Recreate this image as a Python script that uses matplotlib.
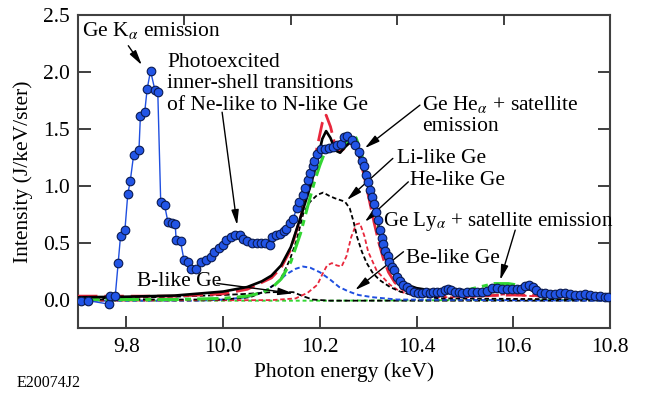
import matplotlib
matplotlib.use("Agg")
import matplotlib.pyplot as plt

plt.rcParams['font.family'] = ['Liberation Serif', 'DejaVu Serif']
plt.rcParams['mathtext.fontset'] = 'stix'

# ---------------- data ----------------
data_x = [9.706, 9.721, 9.764, 9.766, 9.777, 9.783, 9.788, 9.797, 9.803, 9.808,
          9.815, 9.826, 9.829, 9.838, 9.843, 9.850, 9.859, 9.865, 9.871, 9.879,
          9.886, 9.894, 9.901, 9.903, 9.912, 9.919, 9.927, 9.934, 9.943, 9.954,
          9.965, 9.974, 9.982, 9.992, 9.999, 10.007, 10.016, 10.025, 10.034, 10.041,
          10.049, 10.059, 10.071, 10.078, 10.087, 10.097, 10.101, 10.109, 10.118, 10.125,
          10.130, 10.138, 10.145, 10.152, 10.157, 10.166, 10.169, 10.175, 10.180, 10.185,
          10.189, 10.194, 10.202, 10.211, 10.220, 10.228, 10.236, 10.243, 10.250, 10.257,
          10.266, 10.273, 10.280, 10.287, 10.292, 10.296, 10.300, 10.304, 10.307, 10.311,
          10.316, 10.320, 10.324, 10.328, 10.331, 10.335, 10.340, 10.344, 10.349, 10.353,
          10.359, 10.366, 10.373, 10.380, 10.387, 10.395, 10.403, 10.411, 10.419, 10.427,
          10.435, 10.443, 10.451, 10.459, 10.465, 10.471, 10.479, 10.487, 10.495, 10.504,
          10.514, 10.524, 10.535, 10.545, 10.555, 10.566, 10.576, 10.586, 10.597, 10.607,
          10.617, 10.624, 10.633, 10.640, 10.648, 10.657, 10.666, 10.676, 10.686, 10.697,
          10.707, 10.717, 10.728, 10.738, 10.748, 10.759, 10.769, 10.779, 10.790, 10.796]
data_y = [-0.01, -0.01, -0.04, 0.03, 0.03, 0.32, 0.56, 0.61, 0.93, 1.04,
          1.27, 1.31, 1.61, 1.65, 1.85, 2.01, 1.84, 1.82, 0.86, 0.83,
          0.68, 0.67, 0.66, 0.52, 0.51, 0.35, 0.33, 0.27, 0.27, 0.33,
          0.35, 0.37, 0.42, 0.45, 0.48, 0.52, 0.55, 0.57, 0.57, 0.53,
          0.51, 0.50, 0.50, 0.50, 0.50, 0.48, 0.55, 0.57, 0.58, 0.60,
          0.62, 0.67, 0.71, 0.80, 0.86, 0.92, 0.98, 1.05, 1.11, 1.17,
          1.22, 1.28, 1.32, 1.32, 1.33, 1.34, 1.36, 1.37, 1.43, 1.44,
          1.40, 1.36, 1.30, 1.22, 1.17, 1.09, 1.03, 0.96, 0.90, 0.84,
          0.77, 0.70, 0.61, 0.54, 0.49, 0.43, 0.38, 0.33, 0.29, 0.26,
          0.20, 0.16, 0.13, 0.11, 0.08, 0.07, 0.06, 0.06, 0.065, 0.06,
          0.07, 0.065, 0.07, 0.08, 0.09, 0.08, 0.07, 0.07, 0.06, 0.065,
          0.07, 0.07, 0.07, 0.075, 0.10, 0.10, 0.09, 0.09, 0.09, 0.09,
          0.09, 0.12, 0.13, 0.11, 0.085, 0.06, 0.055, 0.05, 0.05, 0.06,
          0.06, 0.045, 0.04, 0.04, 0.045, 0.04, 0.035, 0.03, 0.025, 0.025]

# total fit (black solid)
total_x = [9.70, 9.80, 9.90, 10.00, 10.05, 10.08, 10.10, 10.12, 10.14, 10.16,
           10.18, 10.195, 10.205, 10.213, 10.222, 10.232, 10.242, 10.252, 10.265, 10.275,
           10.285, 10.295, 10.305, 10.315, 10.325, 10.335, 10.345, 10.355, 10.365, 10.38,
           10.40, 10.43, 10.47, 10.52, 10.58, 10.63, 10.70, 10.80]
total_y = [0.02, 0.025, 0.035, 0.07, 0.11, 0.16, 0.21, 0.30, 0.46, 0.72,
           0.99, 1.22, 1.41, 1.48, 1.42, 1.31, 1.29, 1.34, 1.39, 1.33,
           1.22, 1.08, 0.93, 0.76, 0.60, 0.45, 0.33, 0.24, 0.18, 0.13,
           0.10, 0.08, 0.07, 0.06, 0.07, 0.09, 0.05, 0.03]

# model 2 (red long dashes)
red_x = [9.70, 9.90, 10.00, 10.05, 10.10, 10.12, 10.14, 10.16, 10.18, 10.195,
         10.205, 10.213, 10.222, 10.232, 10.242, 10.252, 10.262, 10.272, 10.282, 10.292,
         10.302, 10.312, 10.322, 10.332, 10.342, 10.355, 10.37, 10.39, 10.42, 10.50,
         10.60, 10.70, 10.80]
red_y = [0.03, 0.03, 0.05, 0.09, 0.19, 0.28, 0.44, 0.72, 1.05, 1.35,
         1.55, 1.62, 1.52, 1.35, 1.30, 1.33, 1.37, 1.36, 1.25, 1.08,
         0.88, 0.68, 0.50, 0.35, 0.24, 0.15, 0.09, 0.06, 0.04, 0.03,
         0.04, 0.03, 0.02]

# model 3 (green dash-dot)
green_x = [9.70, 9.90, 10.00, 10.05, 10.08, 10.10, 10.12, 10.14, 10.16, 10.18,
           10.19, 10.20, 10.21, 10.22, 10.23, 10.24, 10.25, 10.26, 10.268, 10.275,
           10.285, 10.295, 10.305, 10.315, 10.325, 10.335, 10.345, 10.355, 10.37, 10.39,
           10.42, 10.46, 10.50, 10.53, 10.56, 10.59, 10.62, 10.65, 10.70, 10.75, 10.80]
green_y = [0.0, 0.0, 0.01, 0.03, 0.06, 0.10, 0.18, 0.33, 0.58, 0.90,
           1.05, 1.18, 1.29, 1.32, 1.33, 1.30, 1.33, 1.40, 1.45, 1.42,
           1.30, 1.12, 0.95, 0.76, 0.57, 0.42, 0.30, 0.21, 0.13, 0.08,
           0.06, 0.06, 0.08, 0.11, 0.14, 0.14, 0.12, 0.07, 0.04, 0.03, 0.02]

# Li-like Ge component (black short dashes)
li_x = [9.70, 10.00, 10.056, 10.09, 10.118, 10.138, 10.152, 10.166, 10.18, 10.195,
        10.207, 10.22, 10.231, 10.245, 10.252, 10.262, 10.270, 10.277, 10.287, 10.297,
        10.31, 10.324, 10.345, 10.366, 10.40, 10.45, 10.80]
li_y = [0.0, 0.0, 0.02, 0.08, 0.17, 0.35, 0.52, 0.76, 0.86, 0.92,
        0.94, 0.91, 0.89, 0.87, 0.86, 0.80, 0.68, 0.55, 0.42, 0.32,
        0.23, 0.17, 0.11, 0.07, 0.03, 0.01, 0.0]

# He-like Ge component (red short dashes)
he_x = [9.70, 10.10, 10.15, 10.175, 10.195, 10.205, 10.215, 10.225, 10.235, 10.245,
        10.255, 10.265, 10.275, 10.283, 10.292, 10.30, 10.318, 10.345, 10.366, 10.40,
        10.45, 10.50, 10.55, 10.58, 10.62, 10.68, 10.80]
he_y = [-0.01, -0.005, 0.01, 0.06, 0.13, 0.22, 0.30, 0.32, 0.30, 0.29,
        0.38, 0.55, 0.66, 0.67, 0.56, 0.42, 0.25, 0.13, 0.07, 0.03,
        0.02, 0.02, 0.03, 0.045, 0.035, 0.02, 0.01]

# Be-like Ge component (blue short dashes)
be_x = [9.70, 9.95, 10.00, 10.05, 10.08, 10.11, 10.13, 10.15, 10.165, 10.18,
        10.20, 10.22, 10.24, 10.26, 10.28, 10.31, 10.36, 10.80]
be_y = [-0.01, -0.01, 0.0, 0.02, 0.06, 0.14, 0.22, 0.27, 0.29, 0.28,
        0.24, 0.18, 0.11, 0.07, 0.04, 0.02, 0.0, -0.01]

# B-like Ge component (black dashes)
b_x = [9.70, 9.80, 9.90, 10.00, 10.05, 10.10, 10.145, 10.165, 10.185, 10.22, 10.80]
b_y = [0.01, 0.015, 0.025, 0.04, 0.05, 0.065, 0.065, 0.03, 0.0, -0.01, -0.01]

# baseline component (green dots)
base_x = [9.70, 10.20, 10.50, 10.80]
base_y = [-0.01, -0.01, -0.005, -0.005]

xticks = [9.8, 10.0, 10.2, 10.4, 10.6, 10.8]
yticks = [0.0, 0.5, 1.0, 1.5, 2.0, 2.5]

# ---------------- figure ----------------
fig = plt.figure(figsize=(6.45, 4.0), dpi=100)
ax = fig.add_axes([78 / 645, 1 - 328 / 400, 532 / 645, 313 / 400])

RED = '#e8273c'
GREEN = '#33d633'
BLUE = '#1f4fe0'

ax.plot(base_x, base_y, color=GREEN, lw=1.4, dashes=(2, 1.5), zorder=2)
ax.plot(b_x, b_y, color='black', lw=1.3, dashes=(3, 1.5), zorder=2)
ax.plot(be_x, be_y, color=BLUE, lw=1.4, dashes=(2.5, 1.5), zorder=2)
ax.plot(he_x, he_y, color=RED, lw=1.3, dashes=(2.5, 1.5), zorder=2)
ax.plot(li_x, li_y, color='black', lw=1.3, dashes=(2.5, 1.5), zorder=2)
ax.plot(green_x, green_y, color=GREEN, lw=2.2, dashes=(7, 2, 2, 2), zorder=3)
ax.plot(red_x, red_y, color=RED, lw=2.0, dashes=(7, 2.5), zorder=3)
ax.plot(total_x, total_y, color='black', lw=1.9, zorder=4)
ax.plot(data_x, data_y, color=BLUE, lw=1.0, marker='o', ms=6.2,
        mfc='#2255e6', mec='#0a1a50', mew=0.8, zorder=5)

ax.set_xlim(9.7, 10.8)
ax.set_ylim(-0.25, 2.5)
ax.set_xticks(xticks)
ax.set_xticklabels([f'{v:.1f}' for v in xticks])
ax.set_yticks(yticks)
ax.set_yticklabels([f'{v:.1f}' for v in yticks])
ax.tick_params(axis='both', direction='in', length=9, width=1.3, labelsize=15.5,
               colors='#303030', labelcolor='black', top=False, right=True)
ax.tick_params(axis='x', pad=7)
ax.tick_params(axis='y', pad=6)
for s in ax.spines.values():
    s.set_color('#404040')
    s.set_linewidth(1.5)

ax_top = ax.twiny()
ax_top.set_xlim(0, 1)
ax_top.set_xticks([0.2, 0.4, 0.6, 0.8])
ax_top.tick_params(axis='x', direction='in', length=7, width=1.3, labeltop=False,
                   colors='#303030')
for s in ax_top.spines.values():
    s.set_visible(False)

ax.set_xlabel('Photon energy (keV)', fontsize=15.5, labelpad=4)
ax.set_ylabel('Intensity (J/keV/ster)', fontsize=15.5, labelpad=7)

fs = 15.5
ap = dict(arrowstyle='-|>,head_length=0.9,head_width=0.22', color='black', lw=1.0,
          shrinkA=0, shrinkB=0)

ax.text(9.708, 2.36, r'Ge K$_\alpha$ emission', fontsize=fs, va='center', ha='left')
ax.annotate('', xy=(9.832, 2.06), xytext=(9.804, 2.23), arrowprops=ap)

ax.text(9.884, 2.17, 'Photoexcited\ninner-shell transitions\nof Ne-like to N-like Ge',
        fontsize=fs, va='top', ha='left', linespacing=1.2)
ax.annotate('', xy=(10.029, 0.654), xytext=(9.998, 1.646), arrowprops=ap)

ax.text(10.411, 1.81, 'Ge He$_\\alpha$ + satellite\nemission', fontsize=fs,
        va='top', ha='left', linespacing=1.2)
ax.annotate('', xy=(10.293, 1.33), xytext=(10.407, 1.708), arrowprops=ap)

ax.text(10.359, 1.242, 'Li-like Ge', fontsize=fs, va='center', ha='left')
ax.annotate('', xy=(10.256, 0.874), xytext=(10.351, 1.24), arrowprops=ap)

ax.text(10.387, 1.049, 'He-like Ge', fontsize=fs, va='center', ha='left')
ax.annotate('', xy=(10.293, 0.683), xytext=(10.383, 1.034), arrowprops=ap)

ax.text(10.331, 0.683, 'Ge Ly$_\\alpha$ + satellite emission', fontsize=15,
        va='center', ha='left')
ax.annotate('', xy=(10.573, 0.171), xytext=(10.604, 0.61), arrowprops=ap)

ax.text(10.378, 0.364, 'Be-like Ge', fontsize=fs, va='center', ha='left')
ax.annotate('', xy=(10.273, 0.083), xytext=(10.373, 0.42), arrowprops=ap)

ax.text(9.821, 0.156, 'B-like Ge', fontsize=fs, va='center', ha='left')
ax.annotate('', xy=(10.145, 0.054), xytext=(9.987, 0.142), arrowprops=ap)

fig.text(17 / 645, 1 - 383 / 400, 'E20074J2', fontsize=11.5, ha='left', va='center')

fig.savefig('out.png', dpi=100)
